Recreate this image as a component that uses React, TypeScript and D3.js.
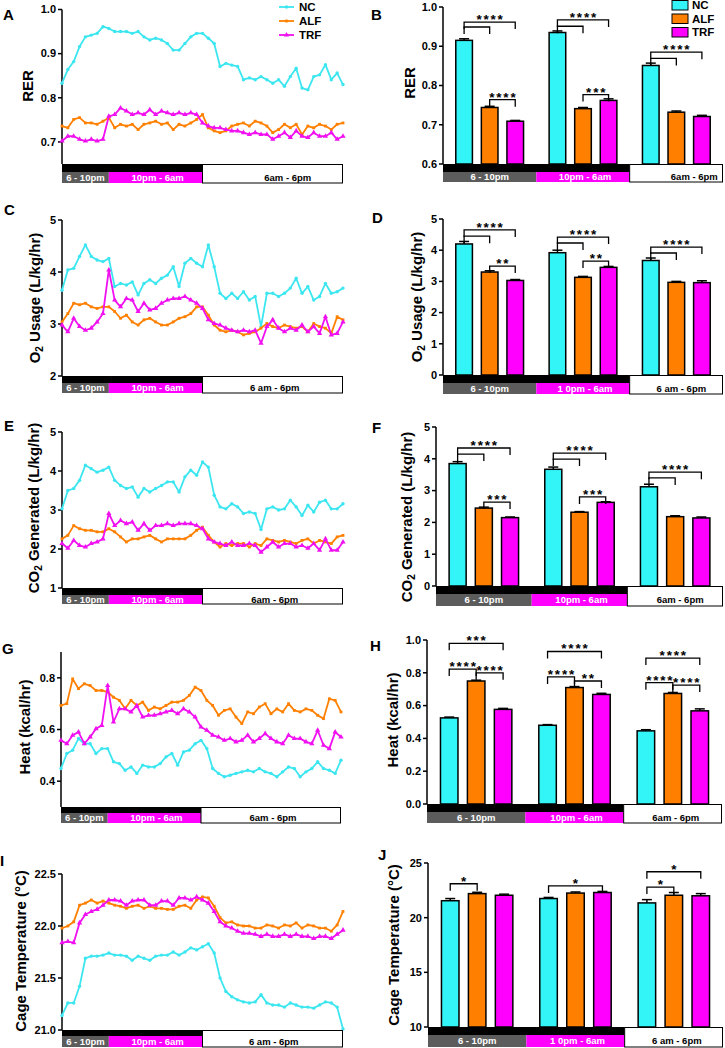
import React from 'react';
import * as d3 from 'd3';

const FONT = '"Liberation Sans", Arial, Helvetica, sans-serif';
const SERIES = ['NC', 'ALF', 'TRF'];
const LINE_COLORS = ['#3ce6f0', '#ff8000', '#f010f0'];
const BAR_COLORS = ['#33f5f8', '#ff8000', '#ff00ff'];
const GRAY = '#5c5c5c';
const MAGENTA = '#ff00ff';
const PERIOD_HOURS = [0, 4, 12, 24];
const HOURS = d3.range(0, 24.001, 0.5);

// ---- Line panel data (every 30 min, 6pm -> 6pm) ----
const A_NC = [0.833,0.864,0.882,0.916,0.938,0.942,0.946,0.961,0.957,0.950,0.950,0.950,0.946,0.950,0.938,0.931,0.935,0.931,0.923,0.908,0.908,0.923,0.938,0.946,0.946,0.935,0.923,0.871,0.878,0.874,0.871,0.841,0.845,0.841,0.848,0.841,0.833,0.841,0.826,0.848,0.867,0.822,0.818,0.848,0.852,0.875,0.841,0.856,0.830];
const A_ALF = [0.736,0.732,0.751,0.755,0.743,0.743,0.740,0.747,0.755,0.732,0.740,0.736,0.740,0.728,0.740,0.743,0.747,0.740,0.743,0.728,0.740,0.736,0.743,0.751,0.762,0.732,0.725,0.721,0.725,0.736,0.740,0.743,0.736,0.747,0.743,0.736,0.721,0.728,0.740,0.732,0.740,0.717,0.736,0.732,0.740,0.736,0.728,0.740,0.743];
const A_TRF = [0.702,0.713,0.713,0.706,0.702,0.706,0.702,0.706,0.758,0.762,0.777,0.770,0.762,0.766,0.762,0.773,0.762,0.770,0.766,0.762,0.766,0.762,0.766,0.762,0.743,0.736,0.732,0.732,0.728,0.725,0.725,0.721,0.717,0.721,0.717,0.717,0.706,0.713,0.721,0.710,0.725,0.713,0.710,0.721,0.713,0.713,0.721,0.706,0.713];

const C_NC = [3.65,4.04,4.07,4.30,4.52,4.30,4.23,4.20,4.26,3.72,3.78,3.75,3.81,3.56,3.78,3.85,3.78,3.88,3.94,4.10,3.72,4.17,4.26,4.17,4.10,4.52,4.10,3.59,3.49,3.59,3.49,3.62,3.46,3.53,2.95,3.59,3.59,3.53,3.59,3.69,3.88,3.59,3.72,3.46,3.53,3.78,3.59,3.62,3.69];
const C_ALF = [3.04,3.20,3.40,3.37,3.40,3.33,3.30,3.33,3.33,3.24,3.11,3.17,3.04,2.98,3.08,3.11,3.04,2.98,2.98,3.04,3.11,3.14,3.20,3.33,3.33,3.17,2.98,2.88,2.85,2.88,2.85,2.79,2.82,2.85,2.92,3.01,2.95,2.92,2.98,2.95,2.92,2.95,2.85,3.01,2.95,2.92,2.82,3.14,3.08];
const C_TRF = [2.98,2.85,3.11,2.95,2.88,2.92,3.04,3.20,4.04,3.46,3.33,3.49,3.46,3.24,3.40,3.27,3.30,3.40,3.46,3.49,3.49,3.53,3.46,3.40,3.30,3.08,3.01,2.98,2.92,2.88,2.85,2.88,2.85,2.88,2.63,2.95,3.08,2.92,2.85,2.92,2.88,2.98,2.85,2.95,2.82,3.14,2.79,2.82,3.04];

const E_NC = [3.03,3.50,3.55,3.76,4.15,4.06,3.97,4.02,4.10,3.76,3.63,3.55,3.59,3.33,3.55,3.46,3.55,3.63,3.72,3.72,3.46,3.85,4.02,3.89,4.23,4.10,3.38,3.08,3.03,3.16,3.08,2.91,2.95,2.91,2.50,3.03,3.08,3.00,3.03,3.25,3.08,2.86,3.12,2.95,3.20,3.25,3.03,3.03,3.16];
const E_ALF = [2.26,2.35,2.60,2.52,2.48,2.48,2.44,2.44,2.52,2.44,2.31,2.18,2.26,2.26,2.31,2.35,2.26,2.18,2.26,2.26,2.26,2.26,2.35,2.48,2.56,2.35,2.18,2.05,2.14,2.09,2.14,2.14,2.05,2.14,2.09,2.26,2.22,2.18,2.22,2.18,2.14,2.22,2.26,2.14,2.22,2.18,2.14,2.31,2.35];
const E_TRF = [2.14,2.02,2.22,2.09,2.05,2.14,2.18,2.26,2.91,2.60,2.73,2.65,2.69,2.48,2.65,2.48,2.60,2.60,2.65,2.60,2.65,2.65,2.65,2.60,2.52,2.26,2.18,2.14,2.09,2.18,2.09,2.09,2.14,2.09,1.92,2.05,2.18,2.05,2.14,2.14,2.05,2.09,2.02,2.14,1.97,2.26,1.97,1.97,2.18];

const G_NC = [0.449,0.507,0.520,0.565,0.545,0.545,0.507,0.526,0.526,0.475,0.468,0.442,0.455,0.430,0.462,0.455,0.455,0.468,0.494,0.507,0.462,0.513,0.520,0.545,0.558,0.526,0.449,0.430,0.417,0.423,0.430,0.436,0.442,0.436,0.449,0.436,0.430,0.417,0.436,0.455,0.449,0.417,0.436,0.449,0.475,0.449,0.442,0.430,0.481];
const G_ALF = [0.693,0.700,0.796,0.758,0.777,0.770,0.751,0.751,0.745,0.725,0.713,0.680,0.713,0.693,0.706,0.674,0.687,0.680,0.693,0.706,0.706,0.713,0.732,0.764,0.751,0.713,0.693,0.655,0.674,0.680,0.648,0.623,0.668,0.661,0.687,0.700,0.661,0.680,0.668,0.700,0.674,0.668,0.680,0.674,0.655,0.642,0.719,0.713,0.668];
const G_TRF = [0.558,0.545,0.578,0.590,0.545,0.571,0.603,0.616,0.770,0.629,0.680,0.680,0.668,0.693,0.648,0.655,0.655,0.661,0.668,0.674,0.661,0.680,0.668,0.648,0.610,0.597,0.578,0.571,0.558,0.565,0.552,0.558,0.578,0.552,0.565,0.584,0.565,0.552,0.545,0.578,0.565,0.565,0.552,0.545,0.597,0.539,0.526,0.590,0.571];

const I_NC = [21.14,21.26,21.26,21.42,21.69,21.71,21.71,21.72,21.74,21.72,21.72,21.71,21.67,21.71,21.69,21.67,21.71,21.72,21.72,21.75,21.72,21.75,21.79,21.77,21.80,21.83,21.74,21.50,21.37,21.32,21.29,21.27,21.26,21.27,21.34,21.26,21.24,21.24,21.22,21.26,21.24,21.22,21.22,21.21,21.24,21.27,21.26,21.22,21.01];
const I_ALF = [21.98,22.00,22.04,22.20,22.22,22.25,22.22,22.24,22.22,22.20,22.19,22.17,22.19,22.20,22.17,22.19,22.17,22.17,22.16,22.16,22.19,22.20,22.17,22.25,22.28,22.27,22.19,22.08,22.03,22.04,22.01,22.00,22.00,21.98,21.98,22.01,22.00,21.98,22.01,22.00,22.03,21.98,22.01,22.00,21.98,21.98,21.95,22.01,22.14];
const I_TRF = [21.84,21.85,21.84,22.03,22.11,22.14,22.16,22.20,22.25,22.25,22.24,22.20,22.24,22.25,22.25,22.20,22.20,22.24,22.24,22.20,22.27,22.27,22.25,22.28,22.25,22.22,22.14,22.04,22.00,21.98,21.95,21.93,21.93,21.92,21.90,21.92,21.90,21.90,21.92,21.90,21.92,21.90,21.90,21.88,21.90,21.90,21.88,21.92,21.96];

// ---- Bar panel data (periods: 6-10pm, 10pm-6am, 6am-6pm) ----
const B_NC = [0.915, 0.935, 0.851];
const B_ALF = [0.744, 0.741, 0.732];
const B_TRF = [0.709, 0.762, 0.721];
const B_NC_ERR = [0.004, 0.004, 0.006];
const B_ALF_ERR = [0.003, 0.003, 0.003];
const B_TRF_ERR = [0.002, 0.004, 0.003];

const D_NC = [4.2, 3.92, 3.67];
const D_ALF = [3.3, 3.13, 2.97];
const D_TRF = [3.03, 3.45, 2.96];
const D_NC_ERR = [0.08, 0.08, 0.08];
const D_ALF_ERR = [0.04, 0.03, 0.03];
const D_TRF_ERR = [0.03, 0.03, 0.06];

const F_NC = [3.85, 3.67, 3.12];
const F_ALF = [2.45, 2.32, 2.18];
const F_TRF = [2.15, 2.63, 2.14];
const F_NC_ERR = [0.06, 0.07, 0.08];
const F_ALF_ERR = [0.03, 0.02, 0.03];
const F_TRF_ERR = [0.02, 0.02, 0.03];

const H_NC = [0.525, 0.48, 0.446];
const H_ALF = [0.75, 0.71, 0.674];
const H_TRF = [0.577, 0.668, 0.568];
const H_NC_ERR = [0.005, 0.004, 0.007];
const H_ALF_ERR = [0.005, 0.006, 0.006];
const H_TRF_ERR = [0.006, 0.007, 0.012];

const J_NC = [21.55, 21.75, 21.35];
const J_ALF = [22.2, 22.25, 22.05];
const J_TRF = [22.05, 22.3, 22.0];
const J_NC_ERR = [0.2, 0.1, 0.3];
const J_ALF_ERR = [0.12, 0.1, 0.25];
const J_TRF_ERR = [0.1, 0.1, 0.2];

// significance brackets: [group, fromSeries, toSeries, y value, label]
const B_SIG = [[0,0,2,0.9615,'****'],[0,0,1,0.949,''],[0,1,2,0.764,'****'],[1,0,2,0.967,'****'],[1,0,1,0.951,''],[1,1,2,0.777,'***'],[2,0,2,0.885,'****'],[2,0,1,0.869,'']];
const D_SIG = [[0,0,2,4.65,'****'],[0,0,1,4.45,''],[0,1,2,3.49,'**'],[1,0,2,4.42,'****'],[1,0,1,4.23,''],[1,1,2,3.65,'**'],[2,0,2,4.1,'****'],[2,0,1,3.91,'']];
const F_SIG = [[0,0,2,4.34,'****'],[0,0,1,4.15,''],[0,1,2,2.64,'***'],[1,0,2,4.18,'****'],[1,0,1,3.99,''],[1,1,2,2.8,'***'],[2,0,2,3.58,'****'],[2,0,1,3.4,'']];
const H_SIG = [[0,0,2,0.98,'***'],[0,0,1,0.823,'****'],[0,1,2,0.80,'****'],[1,0,2,0.93,'****'],[1,0,1,0.775,'****'],[1,1,2,0.75,'**'],[2,0,2,0.89,'****'],[2,0,1,0.74,'****'],[2,1,2,0.725,'****']];
const J_SIG = [[0,0,1,23.1,'*'],[1,0,2,22.9,'*'],[2,0,2,24.2,'*'],[2,0,1,22.8,'*']];

const LABELS_1 = ['6 - 10pm', '10pm - 6am', '6am - 6pm'];
const LABELS_2 = ['6 - 10pm', '10pm - 6am', '6 am - 6pm'];
const LABELS_3 = ['6 - 10pm', '1 0pm - 6am', '6 am - 6pm'];

const o2Title = (<>O<tspan fontSize={10} dy={3}>2</tspan><tspan dy={-3}> Usage (L/kg/hr)</tspan></>);
const co2Title = (<>CO<tspan fontSize={10} dy={3}>2</tspan><tspan dy={-3}> Generated (L/kg/hr)</tspan></>);

function TimeBar({ xs, top, mid, bottom, labels, whiteDx }) {
  const [x0, x1, x2, x3] = xs;
  const ty = (mid + bottom) / 2 + 3.4;
  return (
    <g fontFamily={FONT} fontWeight="bold" fontSize={9.5}>
      <rect x={x0} y={top} width={x2 - x0} height={mid - top} fill="#000" />
      <rect x={x0} y={mid} width={x1 - x0} height={bottom - mid} fill={GRAY} />
      <rect x={x1} y={mid} width={x2 - x1} height={bottom - mid} fill={MAGENTA} />
      <rect x={x2} y={top + 0.5} width={x3 - x2 - 0.5} height={bottom - top - 0.5} fill="#fff" stroke="#000" strokeWidth={1} />
      <text x={(x0 + x1) / 2} y={ty} textAnchor="middle" fill="#fff">{labels[0]}</text>
      <text x={(x1 + x2) / 2 + 2} y={ty} textAnchor="middle" fill="#fff">{labels[1]}</text>
      <text x={(x2 + x3) / 2 + whiteDx} y={ty} textAnchor="middle" fill="#000">{labels[2]}</text>
    </g>
  );
}

function YAxis({ x, y, ticks, fmt, r0, r1 }) {
  return (
    <g fontFamily={FONT} fontWeight="bold" fontSize={11}>
      <line x1={x} x2={x} y1={r0} y2={r1} stroke="#000" strokeWidth={1.5} />
      {ticks.map((t) => (
        <g key={t}>
          <line x1={x - 4} x2={x} y1={y(t)} y2={y(t)} stroke="#000" strokeWidth={1.5} />
          <text x={x - 6} y={y(t)} dy="0.35em" textAnchor="end">{fmt(t)}</text>
        </g>
      ))}
    </g>
  );
}

function Title({ letter, letterX, letterY, title, tx, ty }) {
  return (
    <g fontFamily={FONT} fontWeight="bold">
      <text x={letterX} y={letterY} fontSize={15}>{letter}</text>
      <text transform={`translate(${tx},${ty}) rotate(-90)`} textAnchor="middle" fontSize={15}>{title}</text>
    </g>
  );
}

const triangle = d3.symbol(d3.symbolTriangle, 12)();

function Marker({ i, x, y, color }) {
  if (i === 2) return <path d={triangle} transform={`translate(${x},${y})`} fill={color} />;
  if (i === 1) return <rect x={x - 1.4} y={y - 1.4} width={2.8} height={2.8} fill={color} />;
  return <circle cx={x} cy={y} r={1.7} fill={color} />;
}

function LinePanel(p) {
  const x = d3.scaleLinear().domain([0, 24]).range(p.xRange);
  const y = d3.scaleLinear().domain(p.yDomain).range(p.yRange);
  const line = d3.line().x((_, i) => x(HOURS[i])).y((d) => y(d));
  return (
    <g>
      <Title {...p.title} />
      <YAxis x={p.xRange[0]} y={y} ticks={p.ticks} fmt={p.fmt} r0={p.yRange[0]} r1={p.yRange[1]} />
      {p.series.map((s, si) => (
        <g key={si}>
          <path d={line(s)} fill="none" stroke={LINE_COLORS[si]} strokeWidth={1.8} strokeLinejoin="round" />
          {s.map((v, i) => <Marker key={i} i={si} x={x(HOURS[i])} y={y(v)} color={LINE_COLORS[si]} />)}
        </g>
      ))}
      <TimeBar xs={PERIOD_HOURS.map((h) => x(h))} top={p.yRange[0]} mid={p.bar[0]} bottom={p.bar[1]} labels={p.labels} whiteDx={p.whiteDx} />
      {p.legend && (
        <g fontFamily={FONT} fontWeight="bold" fontSize={11.5}>
          {SERIES.map((s, i) => (
            <g key={s}>
              <line x1={279} x2={294} y1={7 + i * 14} y2={7 + i * 14} stroke={LINE_COLORS[i]} strokeWidth={1.8} />
              <Marker i={i} x={286.5} y={7 + i * 14} color={LINE_COLORS[i]} />
              <text x={299} y={11 + i * 14}>{s}</text>
            </g>
          ))}
        </g>
      )}
    </g>
  );
}

const STAR_SPACING = 1.8;

function BarPanel(p) {
  const outer = d3.scaleBand().domain([0, 1, 2]).range(p.xRange).paddingInner(0).paddingOuter(0);
  const inner = d3.scaleBand().domain([0, 1, 2]).range([0, outer.bandwidth()]).paddingInner(0.35).paddingOuter(0.5);
  const y = d3.scaleLinear().domain(p.yDomain).range(p.yRange);
  const bw = inner.bandwidth();
  const cx = (g, s) => outer(g) + inner(s) + bw / 2;
  const xs = [p.xRange[0], outer(1), outer(2), p.xRange[1]];
  return (
    <g>
      <Title {...p.title} />
      {p.values.map((vals, si) =>
        vals.map((v, g) => {
          const top = y(v);
          const et = y(v + p.errs[si][g]);
          const c = cx(g, si);
          return (
            <g key={`${si}-${g}`}>
              <line x1={c} x2={c} y1={top} y2={et} stroke="#000" strokeWidth={1.5} />
              <line x1={c - 5} x2={c + 5} y1={et} y2={et} stroke="#000" strokeWidth={1.5} />
              <rect x={outer(g) + inner(si)} y={top} width={bw} height={p.yRange[0] - top} fill={BAR_COLORS[si]} stroke="#000" strokeWidth={1.5} />
            </g>
          );
        })
      )}
      {p.sig.map(([g, a, b, v, lab], k) => {
        const x1 = cx(g, a), x2 = cx(g, b), yy = y(v);
        return (
          <g key={k}>
            <path d={`M${x1},${yy + 7}V${yy}H${x2}V${yy + 7}`} fill="none" stroke="#000" strokeWidth={1.3} />
            {lab && (
              <text x={(x1 + x2) / 2 + STAR_SPACING / 2} y={yy + 2} textAnchor="middle" fontFamily={FONT} fontWeight="bold" fontSize={13.5} letterSpacing={STAR_SPACING}>{lab}</text>
            )}
          </g>
        );
      })}
      <YAxis x={p.xRange[0]} y={y} ticks={p.ticks} fmt={p.fmt} r0={p.yRange[0]} r1={p.yRange[1]} />
      <TimeBar xs={xs} top={p.yRange[0]} mid={p.bar[0]} bottom={p.bar[1]} labels={p.labels} whiteDx={p.whiteDx} />
      {p.legend && (
        <g fontFamily={FONT} fontWeight="bold" fontSize={11.5}>
          {SERIES.map((s, i) => (
            <g key={s}>
              <rect x={672} y={0.5 + i * 13.5} width={16} height={9.5} fill={BAR_COLORS[i]} stroke="#000" strokeWidth={1} />
              <text x={692} y={9 + i * 13.7}>{s}</text>
            </g>
          ))}
        </g>
      )}
    </g>
  );
}

const f1 = d3.format('.1f');
const f0 = d3.format('d');

export default function App() {
  return (
    <svg width={725} height={1048} style={{ position: 'absolute', left: 0, top: 0, background: '#fff' }}>
      <rect width={725} height={1048} fill="#fff" />
      <LinePanel
        title={{ letter: 'A', letterX: 3, letterY: 20, title: 'RER', tx: 33, ty: 86 }}
        xRange={[62, 343]} yDomain={[0.65, 1.0]} yRange={[164, 9.5]} ticks={[0.7, 0.8, 0.9, 1.0]} fmt={f1}
        series={[A_NC, A_ALF, A_TRF]} bar={[172, 183]} labels={LABELS_1} whiteDx={15} legend
      />
      <BarPanel
        title={{ letter: 'B', letterX: 371, letterY: 20, title: 'RER', tx: 415, ty: 83 }}
        xRange={[443, 723]} yDomain={[0.6, 1.0]} yRange={[164, 7]} ticks={[0.6, 0.7, 0.8, 0.9, 1.0]} fmt={f1}
        values={[B_NC, B_ALF, B_TRF]} errs={[B_NC_ERR, B_ALF_ERR, B_TRF_ERR]} sig={B_SIG}
        bar={[172, 182]} labels={LABELS_1} whiteDx={18} legend
      />
      <LinePanel
        title={{ letter: 'C', letterX: 4, letterY: 215, title: o2Title, tx: 40, ty: 298 }}
        xRange={[62, 343]} yDomain={[2, 5]} yRange={[376, 220]} ticks={[2, 3, 4, 5]} fmt={f0}
        series={[C_NC, C_ALF, C_TRF]} bar={[383, 393]} labels={LABELS_2} whiteDx={2}
      />
      <BarPanel
        title={{ letter: 'D', letterX: 372, letterY: 223, title: o2Title, tx: 422, ty: 297 }}
        xRange={[443, 723]} yDomain={[0, 5]} yRange={[375, 219]} ticks={[0, 1, 2, 3, 4, 5]} fmt={f0}
        values={[D_NC, D_ALF, D_TRF]} errs={[D_NC_ERR, D_ALF_ERR, D_TRF_ERR]} sig={D_SIG}
        bar={[383, 394]} labels={LABELS_3} whiteDx={5}
      />
      <LinePanel
        title={{ letter: 'E', letterX: 4, letterY: 431, title: co2Title, tx: 39, ty: 508 }}
        xRange={[62, 343]} yDomain={[1, 5]} yRange={[588, 432]} ticks={[1, 2, 3, 4, 5]} fmt={f0}
        series={[E_NC, E_ALF, E_TRF]} bar={[595, 604]} labels={LABELS_1} whiteDx={2}
      />
      <BarPanel
        title={{ letter: 'F', letterX: 372, letterY: 433, title: co2Title, tx: 412, ty: 517 }}
        xRange={[436, 723]} yDomain={[0, 5]} yRange={[586, 427]} ticks={[0, 1, 2, 3, 4, 5]} fmt={f0}
        values={[F_NC, F_ALF, F_TRF]} errs={[F_NC_ERR, F_ALF_ERR, F_TRF_ERR]} sig={F_SIG}
        bar={[594, 606]} labels={LABELS_1} whiteDx={5}
      />
      <LinePanel
        title={{ letter: 'G', letterX: 2, letterY: 654, title: 'Heat (kcal/hr)', tx: 30, ty: 727 }}
        xRange={[61, 341]} yDomain={[0.3, 0.9]} yRange={[807, 652]} ticks={[0.4, 0.6, 0.8]} fmt={f1}
        series={[G_NC, G_ALF, G_TRF]} bar={[813, 823]} labels={LABELS_1} whiteDx={2}
      />
      <BarPanel
        title={{ letter: 'H', letterX: 370, letterY: 651, title: 'Heat (kcal/hr)', tx: 398, ty: 720 }}
        xRange={[427, 722]} yDomain={[0, 1.0]} yRange={[804, 640]} ticks={[0, 0.2, 0.4, 0.6, 0.8, 1.0]} fmt={f1}
        values={[H_NC, H_ALF, H_TRF]} errs={[H_NC_ERR, H_ALF_ERR, H_TRF_ERR]} sig={H_SIG}
        bar={[812, 823]} labels={LABELS_1} whiteDx={3}
      />
      <LinePanel
        title={{ letter: 'I', letterX: 0, letterY: 866, title: 'Cage Temperature (°C)', tx: 26, ty: 951 }}
        xRange={[62, 343]} yDomain={[21, 22.5]} yRange={[1030, 874]} ticks={[21, 21.5, 22, 22.5]} fmt={f1}
        series={[I_NC, I_ALF, I_TRF]} bar={[1036, 1047]} labels={LABELS_2} whiteDx={1}
      />
      <BarPanel
        title={{ letter: 'J', letterX: 378, letterY: 860, title: 'Cage Temperature (°C)', tx: 399, ty: 945 }}
        xRange={[428, 723]} yDomain={[10, 25]} yRange={[1027, 863]} ticks={[10, 15, 20, 25]} fmt={f0}
        values={[J_NC, J_ALF, J_TRF]} errs={[J_NC_ERR, J_ALF_ERR, J_TRF_ERR]} sig={J_SIG}
        bar={[1035, 1047]} labels={LABELS_3} whiteDx={3}
      />
    </svg>
  );
}
